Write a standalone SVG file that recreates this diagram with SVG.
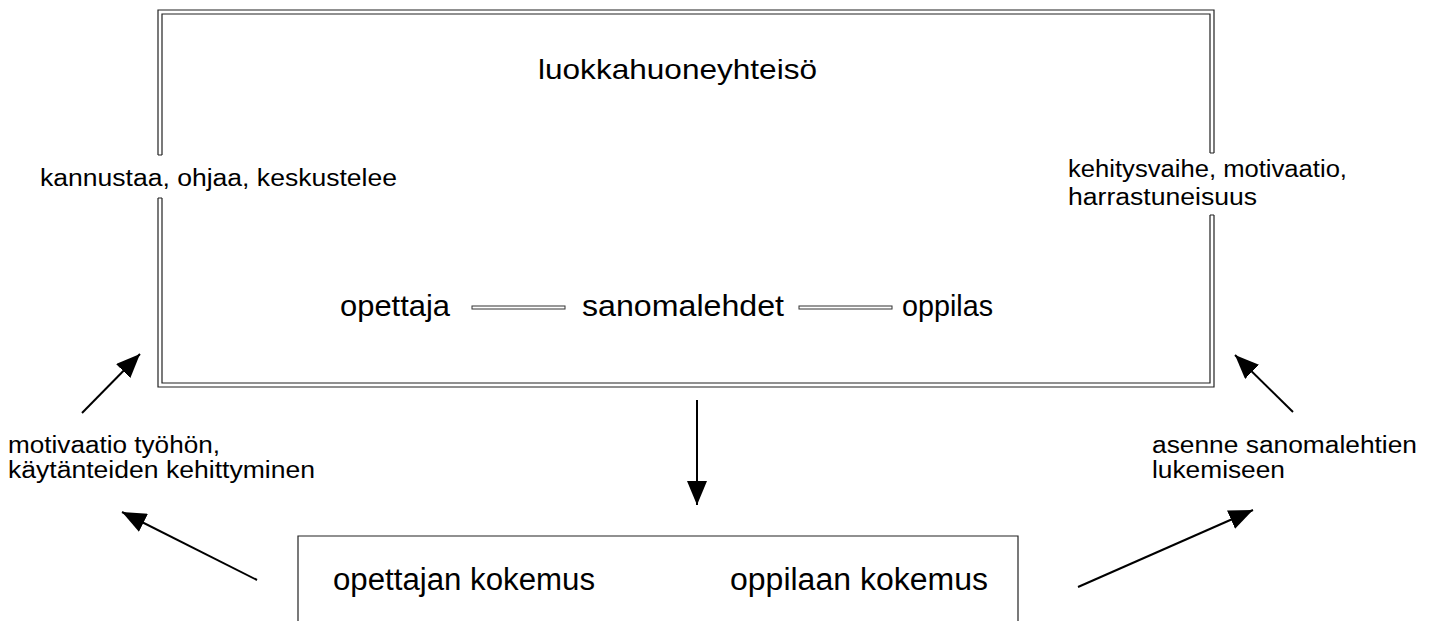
<svg xmlns="http://www.w3.org/2000/svg" width="1432" height="621" viewBox="0 0 1432 621">
<style>
.t{font-family:"Liberation Sans",Arial,sans-serif;fill:#000;}
.lbl{font-size:23px;}
.big{font-size:29px;}
.frame{fill:none;stroke:#222;stroke-width:1.2;}
.arr{fill:none;stroke:#000;stroke-width:2;marker-end:url(#ah);}
.dbl{fill:#fff;stroke:#333;stroke-width:1;}
</style>
<defs>
<marker id="ah" markerWidth="24" markerHeight="20" refX="24" refY="10" orient="auto" markerUnits="userSpaceOnUse">
<path d="M0,0 L24,10 L0,20 z" fill="#000"/>
</marker>
</defs>
<rect width="1432" height="621" fill="#fff"/>

<g id="classroom">
<path class="frame" d="M158,155 V10 H1214 V153 M158,198 V387 H1214 V215"/>
<path class="frame" d="M162,155 V14 H1210 V153 M162,198 V383 H1210 V215"/>
<path class="frame" d="M158,155 H162 M158,198 H162 M1210,153 H1214 M1210,215 H1214"/>
<text class="t" x="538" y="79" font-size="28" textLength="279" lengthAdjust="spacingAndGlyphs" fill="#222">luokkahuoneyhteisö</text>
</g>

<g id="label-teacher-actions">
<text class="t lbl" x="40" y="186" textLength="357" lengthAdjust="spacingAndGlyphs">kannustaa, ohjaa, keskustelee</text>
</g>

<g id="label-student-factors">
<text class="t lbl" x="1068" y="177" textLength="279" lengthAdjust="spacingAndGlyphs">kehitysvaihe, motivaatio,</text>
<text class="t lbl" x="1068" y="205" textLength="189" lengthAdjust="spacingAndGlyphs">harrastuneisuus</text>
</g>

<g id="opettaja">
<text class="t big" x="340" y="316" textLength="110" lengthAdjust="spacingAndGlyphs">opettaja</text>
</g>
<g id="sanomalehdet">
<text class="t big" x="582" y="316" textLength="202" lengthAdjust="spacingAndGlyphs">sanomalehdet</text>
</g>
<g id="oppilas">
<text class="t big" x="902" y="316" textLength="91" lengthAdjust="spacingAndGlyphs">oppilas</text>
</g>

<g id="experience">
<path class="frame" d="M298,640 V536 H1018 V640"/>
<text class="t" x="333" y="590" font-size="31" textLength="262" lengthAdjust="spacingAndGlyphs">opettajan kokemus</text>
<text class="t" x="730" y="590" font-size="31" textLength="258" lengthAdjust="spacingAndGlyphs">oppilaan kokemus</text>
</g>

<g id="label-teacher-outcome">
<text class="t lbl" x="8" y="453" textLength="212" lengthAdjust="spacingAndGlyphs">motivaatio työhön,</text>
<text class="t lbl" x="8" y="478" textLength="307" lengthAdjust="spacingAndGlyphs">käytänteiden kehittyminen</text>
</g>

<g id="label-student-outcome">
<text class="t lbl" x="1152" y="453" textLength="265" lengthAdjust="spacingAndGlyphs">asenne sanomalehtien</text>
<text class="t lbl" x="1152" y="478" textLength="133" lengthAdjust="spacingAndGlyphs">lukemiseen</text>
</g>

<g id="connectors">
<rect class="dbl" x="472" y="306" width="93" height="3"/>
<rect class="dbl" x="799" y="306" width="93" height="3"/>
<path class="arr" d="M82,413 L140,354"/>
<path class="arr" d="M1293,412 L1235,355"/>
<path class="arr" d="M697,400 L697,505"/>
<path class="arr" d="M257,580 L122,512"/>
<path class="arr" d="M1078,587 L1253,510"/>
</g>
</svg>
